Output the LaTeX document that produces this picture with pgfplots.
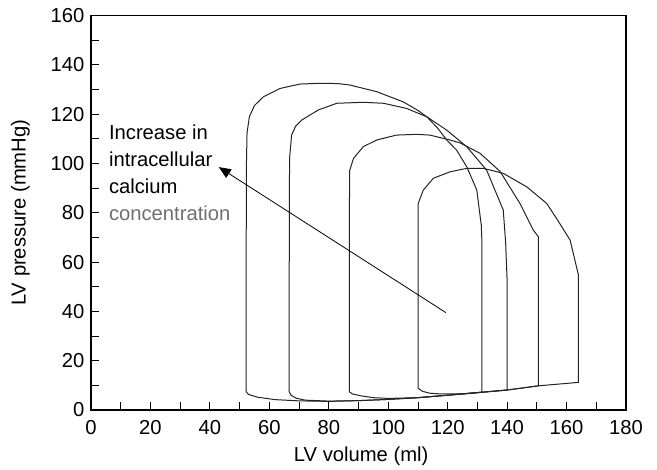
\documentclass[border=0pt]{standalone}
\usepackage{fontspec}
\setmainfont{Liberation Sans}
\usepackage{pgfplots}
\pgfplotsset{compat=1.18}
\usetikzlibrary{arrows.meta}
\definecolor{loopc}{RGB}{35,35,35}
\definecolor{greytxt}{RGB}{110,110,110}
\newcommand{\fs}{\fontsize{20.3}{24}\selectfont}
\begin{document}
\begin{tikzpicture}
\begin{axis}[
  name=ax,
  scale only axis,
  width=535bp, height=394.5bp,
  xmin=0, xmax=180, ymin=0, ymax=160,
  xtick={0,20,...,180}, ytick={0,20,...,160},
  minor x tick num=1, minor y tick num=1,
  xtick pos=bottom, ytick pos=left,
  tick align=inside,
  major tick length=8bp, minor tick length=8bp,
  tick style={black, line width=0.8bp},
  axis line style={black, line width=1.1bp},
  ticklabel style={font=\fs},
  /pgf/number format/assume math mode=true,
  xticklabel style={yshift=-7bp},
  yticklabel style={xshift=-3bp},
  label style={font=\fs},
  xlabel={LV volume (ml)},
  ylabel={LV pressure (mmHg)},
  xlabel style={at={(axis description cs:0.505,-0.1311)}, anchor=base},
  ylabel style={at={(axis description cs:-0.122,0.5)}, anchor=base},
  clip=false,
]
% loop 1
\addplot[loopc, line width=1bp] coordinates {
(52.2,7.4) (52.2,60) (52.3,100) (52.5,112.5) (53.3,119) (55,123.5) (58,127)
(63.6,130.4) (70.3,132.2) (77,132.5) (83,132.4) (87.1,131.8) (96.1,129.1)
(105,125) (110,121.5) (113,118.9) (116.5,114.5) (119.7,109.5) (123,105.4)
(126.4,98.7) (129.8,89.2) (131.3,75) (131.5,68.9) (131.5,7.2)
(125,6.5) (120,6) (110,5) (100,4.3) (90,3.8) (80,3.5) (70,3.7) (62,4.2)
(56,5.2) (53,6.3) (52.2,7.4)};
% loop 2
\addplot[loopc, line width=1bp] coordinates {
(66.7,7.4) (66.7,60) (66.8,102) (67.5,111.5) (68.8,115) (70.9,117.6)
(76.5,121.7) (82.7,124.4) (91.6,124.8) (98.4,124.4) (106.2,122.3) (113,118.9)
(119.7,113.5) (126.4,106.8) (133.1,97.3) (138.7,81.1) (139.5,68) (140,52.7)
(140,8.1) (131.5,7.2) (120,6) (110,5) (100,4.3) (90,3.8) (80,3.6) (72,4)
(69,4.8) (67.3,6) (66.7,7.4)};
% loop 3
\addplot[loopc, line width=1bp] coordinates {
(86.9,7.4) (86.9,60) (87,97) (88.3,102) (91.6,106.8) (96.1,109.5)
(102.8,111.5) (109.6,111.8) (114,111.5) (120.8,109.5) (124.2,108.3)
(130.9,104.1) (137.6,96.8) (144.3,83.8) (148.8,73) (150.5,70.3) (150.5,9.8)
(140,8.1) (131.5,7.2) (120,6) (110,5) (100,4.7) (95,5) (91,5.7) (88,6.5)
(86.9,7.4)};
% loop 4
\addplot[loopc, line width=1bp] coordinates {
(110.1,8.8) (110.1,60) (110.1,83.8) (111.8,89.2) (115.2,94) (120.8,96.6)
(126.4,98) (132,98) (138.7,96) (146.6,90.5) (153.3,83.8) (157,77)
(161.2,68.9) (164,54.7) (164,11.2) (150.5,9.8) (140,8.1) (131.5,7.2)
(124.2,6.5) (118,6.5) (114,6.8) (111.5,7.6) (110.1,8.8)};
\draw[black, line width=0.8bp, -{Triangle[length=12bp,width=10bp]}]
  (axis cs:119.4,39.5) -- (axis cs:43,98.5);
\node[anchor=base west, inner sep=0pt, font=\fs] at (axis cs:6.0,109.8) {Increase in};
\node[anchor=base west, inner sep=0pt, font=\fs] at (axis cs:6.0,98.9) {intracellular};
\node[anchor=base west, inner sep=0pt, font=\fs] at (axis cs:6.0,87.9) {calcium};
\node[anchor=base west, inner sep=0pt, font=\fs, text=greytxt] at (axis cs:6.0,77.0) {concentration};
\end{axis}
\path (ax.south west) ++(-91bp,-60bp) rectangle ++(657bp,470bp);
\end{tikzpicture}
\end{document}
